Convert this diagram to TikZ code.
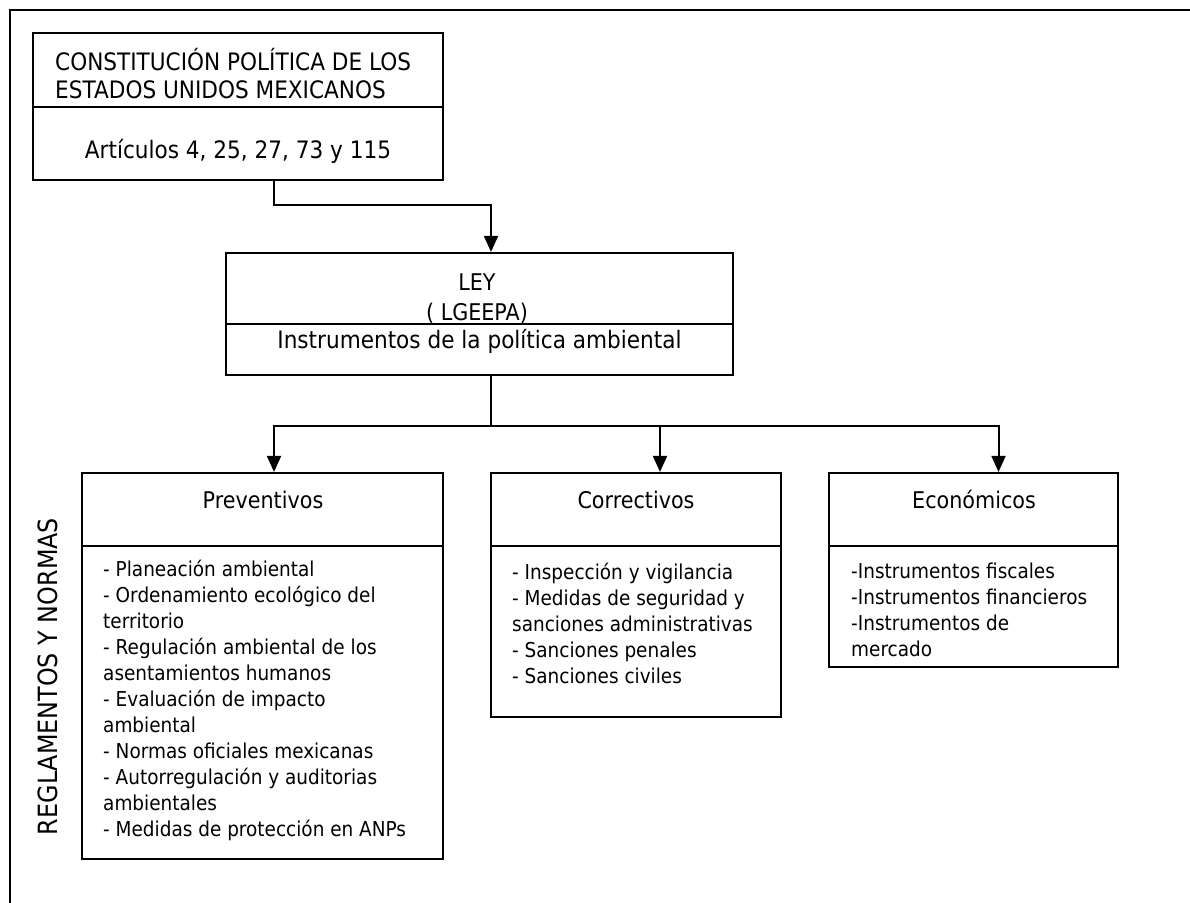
\documentclass[tikz,border=0pt]{standalone}
\usepackage{fontspec}
\setmainfont{DejaVu Sans}[FakeStretch=0.9]
\usetikzlibrary{arrows.meta}

\tikzset{
  frameline/.style={line width=2pt},
  box/.style={draw, line width=2.2pt, inner sep=0pt, fill=white},
  txt/.style={inner sep=0pt, anchor=base},
  lst/.style={inner sep=0pt, anchor=base west},
  wire/.style={line width=2pt},
  conn/.style={line width=2pt, -{Triangle[length=16pt,width=14pt]}},
  hdfont/.style={font=\fontsize{24}{27.5}\selectfont},
  ttfont/.style={font=\fontsize{23}{30}\selectfont},
  lsfont/.style={font=\fontsize{20.5}{26}\selectfont},
}

\begin{document}
\begin{tikzpicture}[x=1pt,y=-1pt]
  \useasboundingbox (0,0) rectangle (1190,902);
  \fill[white] (0,0) rectangle (1190,902);

  % outer frame (only top and left sides fall inside the page)
  \draw[frameline] (10,910) -- (10,10) -- (1200,10);

  % Constitution
  \node[box, minimum width=410pt, minimum height=74pt] (constT) at (238,70) {};
  \node[box, minimum width=410pt, minimum height=73pt] (constB) at (238,143.5) {};
  \node[txt, anchor=base west, hdfont] (constTxt) at (55,70.5)
    {\begin{tabular}[t]{@{}l@{}}CONSTITUCIÓN POLÍTICA DE LOS\\ESTADOS UNIDOS MEXICANOS\end{tabular}};
  \node[txt, hdfont] (artTxt) at (238,158) {Artículos 4, 25, 27, 73 y 115};

  % LGEEPA
  \node[box, minimum width=507pt, minimum height=71pt] (leyT) at (479.5,288.5) {};
  \node[box, minimum width=507pt, minimum height=51pt] (leyB) at (479.5,349.5) {};
  \node[txt, ttfont] (leyTxt) at (477,290)
    {\begin{tabular}[t]{@{}c@{}}LEY\\( LGEEPA)\end{tabular}};
  \node[txt, hdfont] (instTxt) at (479.5,348.5) {Instrumentos de la política ambiental};

  % Preventivos
  \node[box, minimum width=361pt, minimum height=73pt] (prevT) at (262.5,509.5) {};
  \node[box, minimum width=361pt, minimum height=313pt] (prevB) at (262.5,702.5) {};
  \node[txt, ttfont] (prevTxt) at (263,508.5) {Preventivos};
  \node[lst, lsfont] (prevL) at (103,576.5)
    {\begin{tabular}[t]{@{}l@{}}
      - Planeación ambiental\\
      - Ordenamiento ecológico del\\
      territorio\\
      - Regulación ambiental de los\\
      asentamientos humanos\\
      - Evaluación de impacto\\
      ambiental\\
      - Normas oficiales mexicanas\\
      - Autorregulación y auditorias\\
      ambientales\\
      - Medidas de protección en ANPs
    \end{tabular}};

  % Correctivos
  \node[box, minimum width=290pt, minimum height=73pt] (corrT) at (636,509.5) {};
  \node[box, minimum width=290pt, minimum height=171pt] (corrB) at (636,631.5) {};
  \node[txt, ttfont] (corrTxt) at (636,508.5) {Correctivos};
  \node[lst, lsfont] (corrL) at (512,579.5)
    {\begin{tabular}[t]{@{}l@{}}
      - Inspección y vigilancia\\
      - Medidas de seguridad y\\
      sanciones administrativas\\
      - Sanciones penales\\
      - Sanciones civiles
    \end{tabular}};

  % Economicos
  \node[box, minimum width=289pt, minimum height=73pt] (econT) at (973.5,509.5) {};
  \node[box, minimum width=289pt, minimum height=121pt] (econB) at (973.5,606.5) {};
  \node[txt, ttfont] (econTxt) at (974,508.5) {Económicos};
  \node[lst, lsfont] (econL) at (851,578.5)
    {\begin{tabular}[t]{@{}l@{}}
      -Instrumentos fiscales\\
      -Instrumentos financieros\\
      -Instrumentos de\\
      mercado
    \end{tabular}};

  % side label
  \node[txt, rotate=90, font=\fontsize{26.5}{30}\selectfont] (regl) at (57,676.5) {REGLAMENTOS Y NORMAS};

  % connectors
  \draw[conn] ([xshift=36pt]constB.south) -- ++(0,24) -| ([xshift=11.5pt]leyT.north);
  \draw[wire] ([xshift=11.5pt]leyB.south) -- ++(0,50) coordinate (hub);
  \draw[conn] (hub) -| ([xshift=11.5pt]prevT.north);
  \draw[conn] (hub) -| ([xshift=24pt]corrT.north);
  \draw[conn] (hub) -| ([xshift=25pt]econT.north);
\end{tikzpicture}
\end{document}
